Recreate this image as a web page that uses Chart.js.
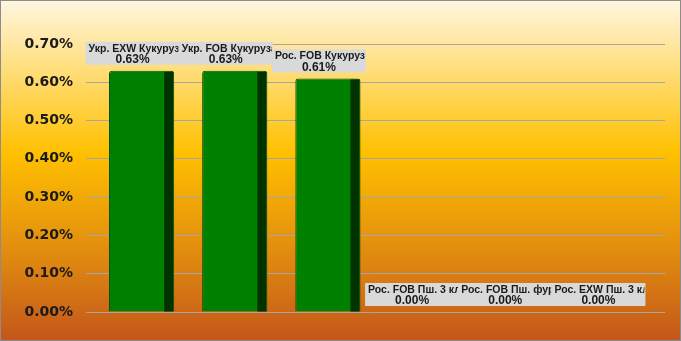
<!DOCTYPE html>
<html>
<head>
<meta charset="utf-8">
<script src="https://cdn.jsdelivr.net/npm/chart.js@4/dist/chart.umd.min.js"></script>
<style>
  html, body { margin: 0; padding: 0; background: #fff; }
  #wrap { width: 681px; height: 341px; }
</style>
</head>
<body>
<div id="wrap"><canvas id="graphique" width="681" height="341"></canvas></div>
<script>
// Données
const categories = ["Укр. EXW Кукуруза", "Укр. FOB Кукуруза", "Рос. FOB Кукуруза",
  "Рос. FOB Пш. 3 кл.", "Рос. FOB Пш. фураж", "Рос. EXW Пш. 3 кл."];
const valeurs = [0.63, 0.63, 0.61, 0, 0, 0];
const ticksY = [0, 0.1, 0.2, 0.3, 0.4, 0.5, 0.6, 0.7];

// fond dégradé + cadre
const fond = {
  id: "fond",
  beforeDraw(chart) {
    const ctx = chart.ctx;
    const g = ctx.createLinearGradient(0, 0, 0, chart.height);
    g.addColorStop(0, "#fff6e0");
    g.addColorStop(0.45, "#ffc000");
    g.addColorStop(0.75, "#e08a10");
    g.addColorStop(1, "#c4561a");
    ctx.save();
    ctx.fillStyle = g;
    ctx.fillRect(0, 0, chart.width, chart.height);
    ctx.restore();
  },
  afterDraw(chart) {
    const ctx = chart.ctx;
    ctx.save();
    ctx.strokeStyle = "#8c8c8c";
    ctx.lineWidth = 1;
    ctx.strokeRect(0.5, 0.5, chart.width - 1, chart.height - 1);
    ctx.restore();
  }
};

// décalage des catégories (effet 3D d'Excel)
const decalage = {
  id: "decalage",
  afterLayout(chart) {
    const x = chart.scales.x;
    x.left = chart.chartArea.left + 9;
    x.right = chart.chartArea.right - 11;
    x.configure();
  }
};

// face latérale sombre + étiquettes
const barres3d = {
  id: "barres3d",
  afterDatasetsDraw(chart) {
    const ctx = chart.ctx;
    const meta = chart.getDatasetMeta(0);
    ctx.save();
    meta.data.forEach(function(el) {
      const h = el.base - el.y;
      if (h > 1) {
        ctx.fillStyle = "#003300";
        ctx.fillRect(el.x + el.width / 2 - 10, el.y + 1, 9, h - 1);
      }
    });
    // étiquettes
    meta.data.forEach(function(el, i) {
      const w = 94, hBox = 23;
      const cx = el.x - 9;
      const bas = el.y - 6;
      const gauche = cx - w / 2, haut = bas - hBox;
      ctx.fillStyle = "#d9d9d9";
      ctx.fillRect(gauche, haut, w, hBox);
      ctx.save();
      ctx.beginPath();
      ctx.rect(gauche + 1, haut, w - 2, hBox);
      ctx.clip();
      ctx.fillStyle = "#1a1a1a";
      ctx.font = "bold 10.5px 'Liberation Sans', Arial, sans-serif";
      ctx.textBaseline = "middle";
      const t = categories[i];
      const tw = ctx.measureText(t).width;
      if (tw > w - 4) {
        ctx.textAlign = "left";
        ctx.fillText(t, gauche + 3, haut + 7);
      } else {
        ctx.textAlign = "center";
        ctx.fillText(t, cx, haut + 7);
      }
      ctx.textAlign = "center";
      ctx.font = "bold 12px 'Liberation Sans', Arial, sans-serif";
      ctx.fillText(valeurs[i].toFixed(2) + "%", cx, haut + 18);
      ctx.restore();
    });
    ctx.restore();
  }
};

const ctx = document.getElementById("graphique").getContext("2d");
const monGraphique = new Chart(ctx, {
  type: "bar",
  data: {
    labels: categories,
    datasets: [{
      data: valeurs,
      backgroundColor: "#008000",
      borderColor: "#0b4f0b",
      borderWidth: 1,
      borderRadius: { topLeft: 3, topRight: 3 },
      borderSkipped: "bottom",
      barPercentage: 0.7,
      categoryPercentage: 1
    }]
  },
  options: {
    responsive: false,
    animation: false,
    layout: { padding: { left: 0, top: 44, right: 16, bottom: 29 } },
    plugins: {
      legend: { display: false },
      tooltip: { enabled: false }
    },
    scales: {
      x: {
        grid: { display: false },
        border: { display: false },
        ticks: { display: false },
        afterFit(scale) { scale.height = 0; }
      },
      y: {
        min: 0,
        max: 0.7,
        afterBuildTicks(scale) {
          scale.ticks = ticksY.map(v => ({ value: v }));
        },
        afterFit(scale) { scale.width = 86; },
        grid: { color: "#a6a6a6", drawTicks: false, lineWidth: 1 },
        border: { display: false },
        ticks: {
          padding: 13,
          color: "#1a1a1a",
          font: { family: "DejaVu Sans", size: 14, weight: "bold" },
          callback: v => v.toFixed(2) + "%"
        }
      }
    }
  },
  plugins: [fond, decalage, barres3d]
});
</script>
</body>
</html>
